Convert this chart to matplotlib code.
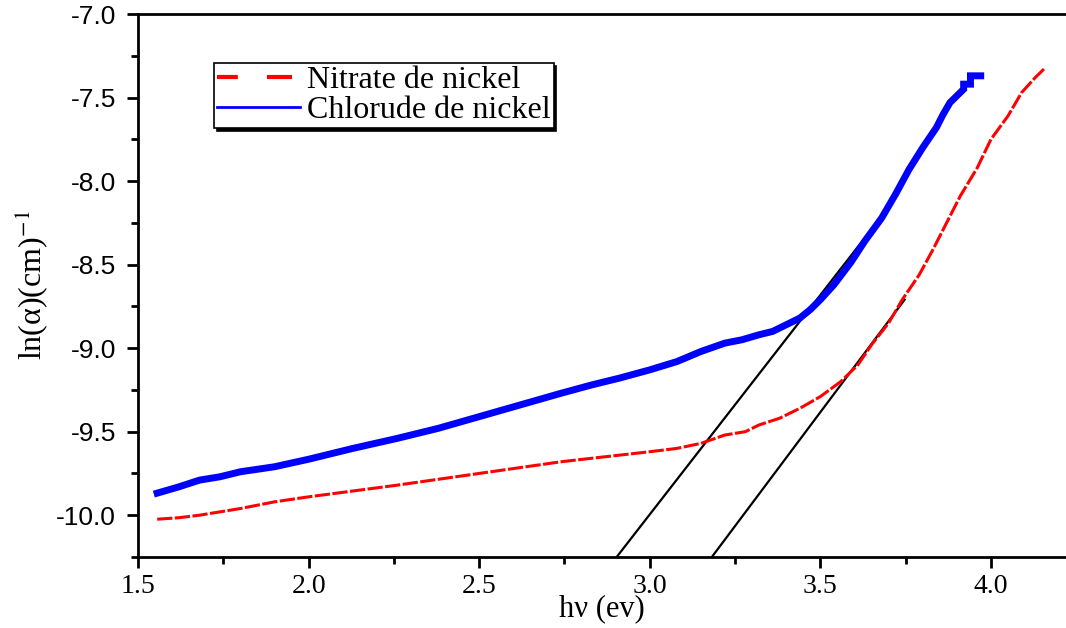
import numpy as np
import matplotlib.pyplot as plt
from matplotlib.ticker import MultipleLocator

plt.rcParams['mathtext.fontset'] = 'stix'

# Chlorure de nickel (blue)
chl_x = [1.556, 1.62, 1.68, 1.74, 1.80, 1.90, 2.0, 2.13, 2.26, 2.38, 2.5, 2.62,
         2.74, 2.83, 2.91, 3.0, 3.08, 3.15, 3.22, 3.27, 3.32, 3.36, 3.40, 3.44,
         3.47, 3.50, 3.54, 3.59, 3.63, 3.68, 3.72, 3.76, 3.80, 3.84, 3.86, 3.88,
         3.90, 3.92, 3.92, 3.94, 3.94, 3.97]
chl_y = [-9.868, -9.83, -9.79, -9.77, -9.74, -9.71, -9.665, -9.60, -9.54, -9.48,
         -9.41, -9.34, -9.27, -9.22, -9.18, -9.13, -9.08, -9.02, -8.97, -8.95,
         -8.92, -8.90, -8.86, -8.82, -8.77, -8.71, -8.62, -8.485, -8.36, -8.22,
         -8.08, -7.93, -7.80, -7.68, -7.60, -7.53, -7.49, -7.45, -7.42, -7.42,
         -7.37, -7.37]

# Nitrate de nickel (red)
nit_x = [1.556, 1.62, 1.68, 1.80, 1.90, 2.0, 2.13, 2.26, 2.38, 2.5, 2.62, 2.74,
         2.87, 3.0, 3.08, 3.15, 3.22, 3.28, 3.32, 3.38, 3.44, 3.50, 3.56, 3.61,
         3.65, 3.70, 3.74, 3.79, 3.83, 3.87, 3.91, 3.96, 4.0, 4.05, 4.09, 4.13,
         4.16]
nit_y = [-10.024, -10.015, -10.0, -9.96, -9.92, -9.89, -9.855, -9.82, -9.785,
         -9.75, -9.715, -9.68, -9.65, -9.62, -9.60, -9.57, -9.52, -9.50, -9.46,
         -9.42, -9.36, -9.29, -9.20, -9.10, -8.98, -8.85, -8.71, -8.56, -8.41,
         -8.25, -8.09, -7.92, -7.75, -7.61, -7.47, -7.38, -7.32]

# tangent lines (gap extrapolation)
tan1_x = [2.903, 3.653]
tan1_y = [-10.25, -8.28]
tan2_x = [3.182, 3.747]
tan2_y = [-10.25, -8.71]

fig = plt.figure(figsize=(10.66, 6.28), dpi=100)
ax = fig.add_axes([0.1295, 0.1131, 0.8705, 0.8646])

ax.plot(tan1_x, tan1_y, color='black', lw=1.6, zorder=2)
ax.plot(tan2_x, tan2_y, color='black', lw=1.6, zorder=2)
ax.plot(nit_x, nit_y, color='red', lw=2.2, ls=(0, (5, 0.8)), zorder=3,
        label='Nitrate de nickel')
ax.plot(chl_x, chl_y, color='blue', lw=5, zorder=4, solid_joinstyle='miter',
        label='Chlorude de nickel')

ax.set_xlim(1.5, 4.22)
ax.set_ylim(-10.25, -7.0)
ax.xaxis.set_major_locator(MultipleLocator(0.5))
ax.xaxis.set_minor_locator(MultipleLocator(0.25))
ax.yaxis.set_major_locator(MultipleLocator(0.5))
ax.yaxis.set_minor_locator(MultipleLocator(0.25))
ax.tick_params(which='major', direction='out', length=8, width=2, labelsize=19,
               pad=8)
ax.tick_params(axis='x', which='major', pad=4)
ax.tick_params(which='minor', direction='out', length=5, width=2)
ax.xaxis.set_major_formatter(plt.FuncFormatter(lambda v, p: f'{v:.1f}'))
ax.yaxis.set_major_formatter(plt.FuncFormatter(lambda v, p: f'{v:.1f}'))
for lab in ax.get_xticklabels():
    lab.set_family('Liberation Serif')
    lab.set_fontsize(20)
for lab in ax.get_yticklabels():
    lab.set_family('Liberation Sans')

for s in ['left', 'bottom', 'top']:
    ax.spines[s].set_linewidth(2)
ax.spines['right'].set_visible(False)

ax.set_xlabel('hν (ev)', family='Liberation Serif', fontsize=22, labelpad=-3)
ax.set_ylabel('ln(α)(cm)$^{-1}$', family='Liberation Serif', fontsize=23,
              labelpad=4)

leg = ax.legend(loc='upper left', bbox_to_anchor=(0.082, 0.91), frameon=True,
                fancybox=False, shadow={'color': 'black', 'alpha': 1},
                prop={'family': 'Liberation Serif', 'size': 23},
                handlelength=2.6, borderpad=0.1, labelspacing=0.0,
                handletextpad=0.2, borderaxespad=0)
leg.get_frame().set_edgecolor('black')
leg.get_frame().set_linewidth(1.2)
leg.get_frame().set_alpha(1)
leg.get_lines()[1].set_linewidth(2)
leg.get_lines()[0].set_linestyle((1, (6, 7)))
leg.get_lines()[0].set_linewidth(3)

fig.savefig('out.png', dpi=100)
